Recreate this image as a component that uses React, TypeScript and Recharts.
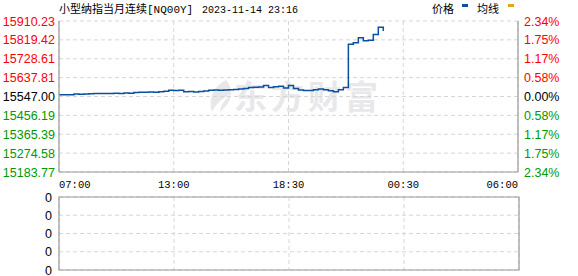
import React from "react";
import { LineChart, Line, XAxis, YAxis, CartesianGrid, ReferenceArea, ComposedChart, Bar } from "recharts";

const titleName = "小型纳指当月连续";
const titleCode = "[NQ00Y]";
const titleStamp = "2023-11-14 23:16";
const legendNames = ["价格", "均线"];
const legendColors = ["#0d4f9f", "#e0a817"];

const timeLabels = ["07:00", "13:00", "18:30", "00:30", "06:00"];
const timeSlots = [0, 23, 46, 69, 92];

const prevClose = 15547.0;
const priceTicks = [15183.77, 15274.58, 15365.39, 15456.19, 15547.0, 15637.81, 15728.61, 15819.42, 15910.23];
const pctLabels = ["2.34%", "1.75%", "1.17%", "0.58%", "0.00%", "0.58%", "1.17%", "1.75%", "2.34%"];

// one price every 15 minutes from 07:00
const prices = [
  15556, 15555, 15556, 15559, 15558, 15559, 15560, 15561, 15562, 15562,
  15561, 15563, 15562, 15564, 15563, 15566, 15568, 15567, 15569, 15568,
  15570, 15572, 15577, 15576, 15577, 15570, 15571, 15569, 15571, 15573,
  15577, 15578, 15577, 15578, 15579, 15581, 15583, 15586, 15590, 15591,
  15593, 15600, 15590, 15594, 15596, 15588, 15600, 15585, 15578, 15576,
  15576, 15579, 15583, 15580, 15575, 15570, 15579, 15590, 15798, 15806,
  15830, 15815, 15818, 15845, 15880, 15862,
];

const volumeTicks = [0, 1, 2, 3, 4];
const volumeLabels = ["0", "0", "0", "0", "0"];
const volumes = [0, 0, 0, 0, 0];

const priceData = prices.map((price, slot) => ({ slot, price }));
const volumeData = timeSlots.map((slot, i) => ({ slot, volume: volumes[i] }));

const UP = "#ff0000";
const DOWN = "#009900";
const FLAT = "#000000";
const BORDER = "#999999";
const WATERMARK = "#e8e8ea";
const numFont = "'Liberation Sans', Arial, sans-serif";
const monoFont = "'Liberation Mono', monospace";
const cjkFont = "'Noto Sans CJK SC', sans-serif";

const colorFor = (v: number) => (v > prevClose ? UP : v < prevClose ? DOWN : FLAT);

const TimeTick = (props: any) => {
  const { x, y, payload } = props;
  const i = timeSlots.indexOf(payload.value);
  const anchor = i === 0 ? "start" : i === timeSlots.length - 1 ? "end" : "middle";
  return (
    <text x={x} y={y + 14} textAnchor={anchor} fontSize={10.5} fontFamily={monoFont} fill="#000">
      {timeLabels[i]}
    </text>
  );
};

const PriceTick = (props: any) => {
  const { x, y, payload } = props;
  return (
    <text x={x} y={y + 4.5} textAnchor="end" fontSize={12.5} fontFamily={numFont} fill={colorFor(payload.value)}>
      {payload.value.toFixed(2)}
    </text>
  );
};

const PctTick = (props: any) => {
  const { x, y, payload } = props;
  const i = priceTicks.indexOf(payload.value);
  return (
    <text x={x} y={y + 4.5} textAnchor="start" fontSize={12.5} fontFamily={numFont} fill={colorFor(payload.value)}>
      {pctLabels[i]}
    </text>
  );
};

const VolTick = (props: any) => {
  const { x, y, payload } = props;
  return (
    <text x={x} y={y + 4.5} textAnchor="end" fontSize={12.5} fontFamily={numFont} fill="#000">
      {volumeLabels[volumeTicks.indexOf(payload.value)]}
    </text>
  );
};

const Header = () => (
  <svg width={578} height={20} style={{ position: "absolute", left: 0, top: 0 }}>
    <text x={59} y={13} fontSize={11} fontFamily={cjkFont} fill="#000">
      {titleName}
    </text>
    <text x={147} y={13} fontSize={11} fontFamily={monoFont} fill="#000">
      {titleCode}
    </text>
    <text x={202} y={13} fontSize={10} fontFamily={monoFont} fill="#000">
      {titleStamp}
    </text>
    <text x={432} y={13} fontSize={11} fontFamily={cjkFont} fill="#000">
      {legendNames[0]}
    </text>
    <rect x={462} y={4} width={6} height={3} fill={legendColors[0]} />
    <text x={477} y={13} fontSize={11} fontFamily={cjkFont} fill="#000">
      {legendNames[1]}
    </text>
    <rect x={508} y={4} width={6} height={3} fill={legendColors[1]} />
  </svg>
);

// faint brand mark behind the plot
const Watermark = () => (
  <svg width={578} height={192} style={{ position: "absolute", left: 0, top: 0 }}>
    <path d="M226 80 C214 86 208 98 212 112 C216 104 222 98 232 94 C224 100 220 106 220 112 C230 104 236 92 226 80 Z" fill={WATERMARK} />
    <text x={234} y={109} fontSize={33} fontWeight={700} fontFamily={cjkFont} fill={WATERMARK} letterSpacing={4}>
      东方财富
    </text>
  </svg>
);

const priceDomain = [priceTicks[0], priceTicks[priceTicks.length - 1]];
const axisLine = { stroke: BORDER, strokeWidth: 1.2 };

export default function App() {
  return (
    <div style={{ position: "absolute", left: 0, top: 0, width: 578, height: 276, background: "#fff", overflow: "hidden" }}>
      <Watermark />
      <Header />
      <div style={{ position: "absolute", left: 0, top: 0 }}>
        <LineChart width={578} height={192} data={priceData} margin={{ top: 21, right: 0, bottom: 0, left: 0 }}>
          <CartesianGrid stroke="#d6d6d6" strokeDasharray="4 3" />
          <XAxis
            dataKey="slot"
            type="number"
            domain={[0, 92]}
            ticks={timeSlots}
            interval={0}
            height={20}
            axisLine={axisLine}
            tickLine={false}
            tickSize={0}
            tick={<TimeTick />}
          />
          <XAxis
            xAxisId="top"
            orientation="top"
            dataKey="slot"
            type="number"
            domain={[0, 92]}
            height={0}
            axisLine={axisLine}
            tickLine={false}
            tick={false}
          />
          <YAxis
            type="number"
            domain={priceDomain}
            ticks={priceTicks}
            interval={0}
            width={59}
            axisLine={axisLine}
            tickLine={false}
            tickSize={0}
            tickMargin={4}
            tick={<PriceTick />}
          />
          <YAxis
            yAxisId="right"
            orientation="right"
            type="number"
            domain={priceDomain}
            ticks={priceTicks}
            interval={0}
            width={60}
            axisLine={axisLine}
            tickLine={false}
            tickSize={0}
            tickMargin={6}
            tick={<PctTick />}
          />
          <Line
            yAxisId="right"
            xAxisId="top"
            dataKey="price"
            stroke="none"
            dot={false}
            activeDot={false}
            legendType="none"
            isAnimationActive={false}
          />
          <Line
            dataKey="price"
            type="stepAfter"
            stroke={legendColors[0]}
            strokeWidth={1.5}
            dot={false}
            isAnimationActive={false}
          />
        </LineChart>
      </div>
      <div style={{ position: "absolute", left: 0, top: 192 }}>
        <ComposedChart width={578} height={84} data={volumeData} margin={{ top: 5, right: 59, bottom: 6, left: 0 }}>
          <CartesianGrid stroke="#d6d6d6" strokeDasharray="4 3" />
          <XAxis dataKey="slot" type="number" domain={[0, 92]} ticks={timeSlots} interval={0} hide />
          <YAxis
            type="number"
            domain={[0, 4]}
            ticks={volumeTicks}
            interval={0}
            width={59}
            axisLine={false}
            tickLine={false}
            tickSize={0}
            tickMargin={7}
            tick={<VolTick />}
          />
          <ReferenceArea x1={0} x2={92} y1={0} y2={4} fill="none" stroke={BORDER} strokeWidth={1.2} />
          <Bar dataKey="volume" fill={legendColors[0]} barSize={2} isAnimationActive={false} />
        </ComposedChart>
      </div>
    </div>
  );
}
